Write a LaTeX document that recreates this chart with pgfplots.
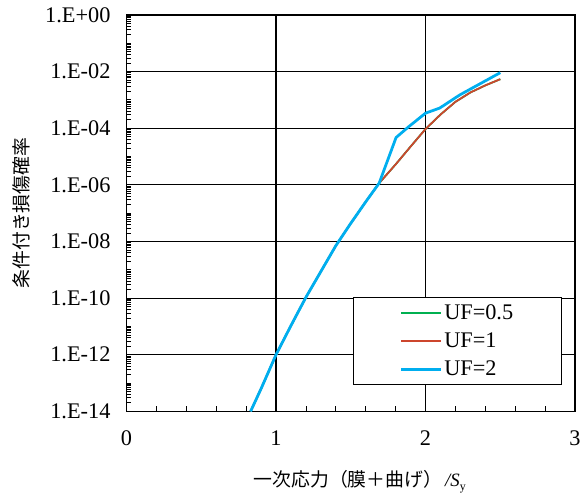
\documentclass[border=0pt]{standalone}
\usepackage{pgfplots}
\pgfplotsset{compat=1.18}
\usepackage{fontspec}
\setmainfont{Liberation Serif}
\newfontfamily\cjk{Noto Sans CJK JP}
\definecolor{ufgreen}{RGB}{0,176,80}
\definecolor{ufred}{RGB}{205,70,45}
\definecolor{ufblue}{RGB}{0,174,239}
\def\mylist{}
\foreach \e in {-14,...,-1}{\foreach \m in {2,...,10}{\xdef\mylist{\mylist\m e\e,}}}
\begin{document}
\begin{tikzpicture}
\begin{axis}[
  scale only axis,
  width=452.5bp, height=400bp,
  ymode=log,
  xmin=0, xmax=3, ymin=1e-14, ymax=1,
  xtick={0,1,2,3},
  minor x tick num=4,
  ytick={1e-14,1e-12,1e-10,1e-8,1e-6,1e-4,1e-2,1},
  yticklabels={1.E-14,1.E-12,1.E-10,1.E-08,1.E-06,1.E-04,1.E-02,1.E+00},
  minor ytick/.expanded={\mylist 1},
  xtick pos=left, ytick pos=left,
  tick align=inside,
  major tick length=7bp, minor tick length=5bp,
  grid=major,
  major grid style={black, line width=1.1bp},
  axis line style={black, line width=1.8bp},
  every tick/.style={black, line width=0.8bp},
  tick label style={font=\fontsize{22.5bp}{26bp}\selectfont, inner sep=0pt},
  /pgf/number format/assume math mode=true,
  xticklabel style={anchor=center, yshift=-27bp},
  yticklabel style={anchor=east, xshift=-16bp},
  xlabel={{\cjk 一次応力（膜＋曲げ）}\,\textit{/S}\raisebox{-0.45ex}{\fontsize{12bp}{12bp}\selectfont y}},
  ylabel={\cjk 条件付き損傷確率},
  label style={font=\fontsize{19bp}{22bp}\selectfont},
  xlabel style={at={(axis description cs:0.52,-0.1775)}, anchor=center},
  ylabel style={at={(axis description cs:-0.2335,0.5)}, anchor=center},
  legend style={at={(rel axis cs:0.9714,0.0675)}, anchor=south east,
    draw=black, line width=0.9bp, font=\fontsize{22.5bp}{26bp}\selectfont,
    inner xsep=47bp, inner ysep=5bp, row sep=8bp},
  legend cell align=left,
  legend image code/.code={\draw[#1] (0bp,0bp) -- (40bp,0bp);},
]
\coordinate (bl) at (rel axis cs:0,0);
\coordinate (tr) at (rel axis cs:1,1);
\addplot[ufgreen, line width=1.8bp] coordinates {
(0.83,1e-14) (0.9,6.31e-14) (1.0,1e-12) (1.1,1.07e-11) (1.2,1.07e-10) (1.3,8.71e-10)
(1.4,7.08e-9) (1.5,4.37e-8) (1.6,2.51e-7) (1.69,1.15e-6) (1.8,5.25e-6) (1.9,2.24e-5)
(2.0,9.33e-5) (2.1,3.02e-4) (2.2,8.51e-4) (2.3,1.82e-3) (2.4,3.24e-3) (2.5,5.37e-3)};
\addlegendentry{UF=0.5}
\addplot[ufred, line width=1.8bp] coordinates {
(0.83,1e-14) (0.9,6.31e-14) (1.0,1e-12) (1.1,1.07e-11) (1.2,1.07e-10) (1.3,8.71e-10)
(1.4,7.08e-9) (1.5,4.37e-8) (1.6,2.51e-7) (1.69,1.15e-6) (1.8,5.25e-6) (1.9,2.24e-5)
(2.0,9.33e-5) (2.1,3.02e-4) (2.2,8.51e-4) (2.3,1.82e-3) (2.4,3.24e-3) (2.5,5.37e-3)};
\addlegendentry{UF=1}
\addplot[ufblue, line width=2.8bp] coordinates {
(0.83,1e-14) (0.9,6.31e-14) (1.0,1e-12) (1.1,1.07e-11) (1.2,1.07e-10) (1.3,8.71e-10)
(1.4,7.08e-9) (1.5,4.37e-8) (1.6,2.51e-7) (1.69,1.15e-6) (1.803,4.68e-5) (1.885,1.10e-4)
(2.0,3.39e-4) (2.095,5.13e-4) (2.228,1.48e-3) (2.3,2.40e-3) (2.4,4.68e-3) (2.5,9.12e-3)};
\addlegendentry{UF=2}
\end{axis}
\pgfresetboundingbox
\path ([shift={(-127.6bp,-84bp)}]bl) rectangle ([shift={(8bp,15bp)}]tr);
\end{tikzpicture}
\end{document}
